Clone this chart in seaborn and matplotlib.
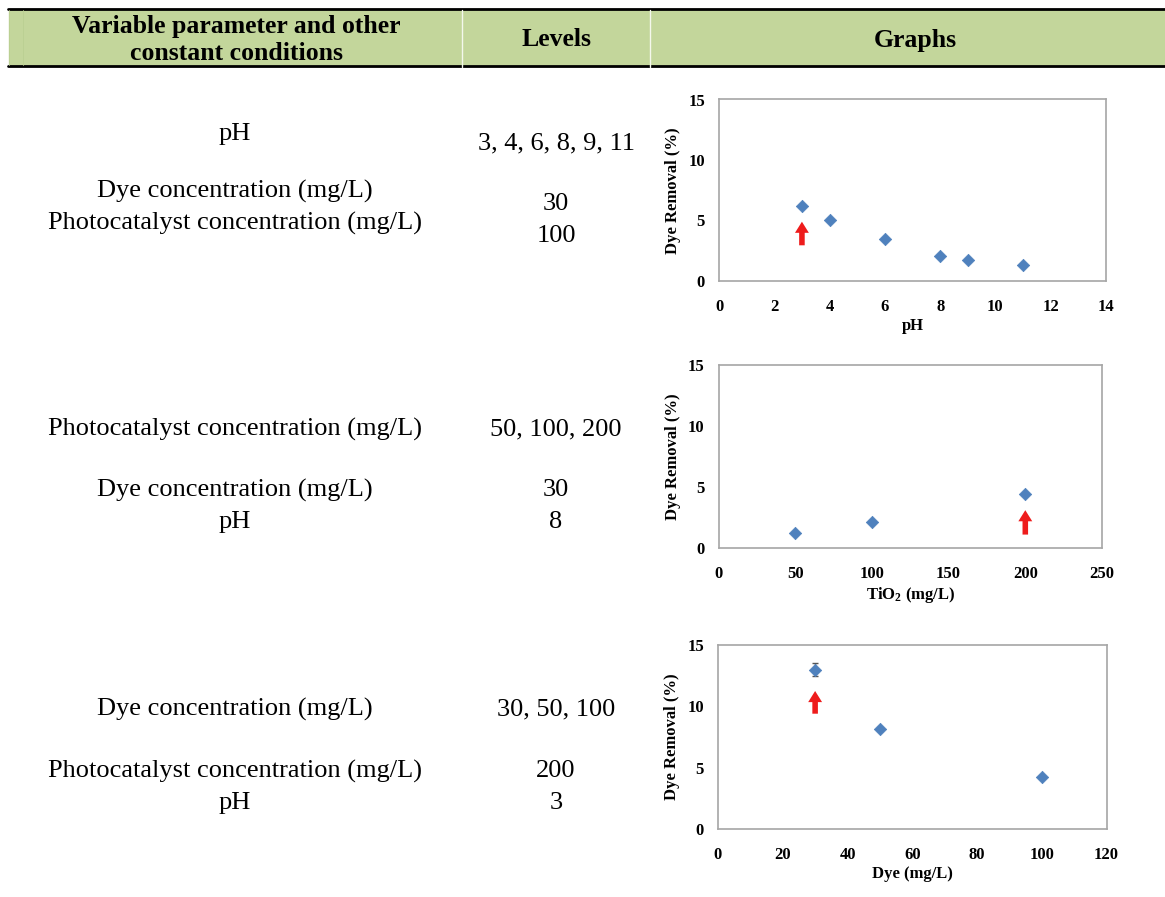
## Importing required libraries

import matplotlib.pyplot as plt
import seaborn as sns
import numpy as np

# Data
ph_levels = [3, 4, 6, 8, 9, 11]
ph_removal = [6.2, 5.0, 3.45, 2.1, 1.75, 1.3]

tio2_levels = [50, 100, 200]
tio2_removal = [1.2, 2.15, 4.45]

dye_levels = [30, 50, 100]
dye_removal = [13.0, 8.15, 4.2]
dye_error = [0.55, 0.15, 0.08]

# Red arrows marking the chosen level: x, tail, head
ph_arrow = [3, 2.95, 4.9]
tio2_arrow = [200, 1.1, 3.1]
dye_arrow = [30, 9.4, 11.25]

# Table text
header_cols = ["Variable parameter and other\nconstant conditions", "Levels", "Graphs"]
row_params = [
    ["pH", "Dye concentration (mg/L)", "Photocatalyst concentration (mg/L)"],
    ["Photocatalyst concentration (mg/L)", "Dye concentration (mg/L)", "pH"],
    ["Dye concentration (mg/L)", "Photocatalyst concentration (mg/L)", "pH"],
]
row_levels = [
    ["3, 4, 6, 8, 9, 11", "30", "100"],
    ["50, 100, 200", "30", "8"],
    ["30, 50, 100", "200", "3"],
]

# Set style
sns.set_theme(style="white")
plt.rcParams['font.family'] = ['Liberation Serif', 'DejaVu Serif']
plt.rcParams['mathtext.default'] = 'regular'
plt.rcParams['text.color'] = 'black'

W, H = 1165, 897
fig = plt.figure(figsize=(W / 100, H / 100), dpi=100)


def fx(px):
    return px / W


def fy(py):
    return 1 - py / H


# Header band
fig.patches.append(plt.Rectangle((fx(9), fy(66)), fx(1165 - 9), 57 / H,
                                 transform=fig.transFigure, color='#c3d69b', zorder=0))
fig.lines.append(plt.Line2D([fx(8), 1], [fy(9), fy(9)], transform=fig.transFigure,
                            color='black', lw=2))
fig.lines.append(plt.Line2D([fx(8), 1], [fy(66), fy(66)], transform=fig.transFigure,
                            color='black', lw=2))
for sx in [462, 650]:
    fig.lines.append(plt.Line2D([fx(sx), fx(sx)], [fy(10), fy(67)], transform=fig.transFigure,
                                color='#f4f8ec', lw=1))
for sx in [9, 23]:
    fig.lines.append(plt.Line2D([fx(sx), fx(sx)], [fy(10), fy(65)], transform=fig.transFigure,
                                color='#bacf92', lw=0.6))

fig.text(fx(236), fy(40), header_cols[0], ha='center', va='center', fontsize=18.5,
         fontweight='bold', linespacing=1.22)
fig.text(fx(556), fy(40), header_cols[1], ha='center', va='center', fontsize=18.5,
         fontweight='bold')
fig.text(fx(915), fy(40), header_cols[2], ha='center', va='center', fontsize=18.5,
         fontweight='bold')

# Left columns text
param_y = [[134, 191, 223], [429, 490, 522], [709, 771, 803]]
level_y = [[143, 204, 236], [429, 490, 522], [709, 771, 803]]
for r in range(3):
    for i in range(3):
        fig.text(fx(235), fy(param_y[r][i]), row_params[r][i], ha='center', va='center',
                 fontsize=19)
        fig.text(fx(556), fy(level_y[r][i]), row_levels[r][i], ha='center', va='center',
                 fontsize=19)


def make_axes(left, right, top, bottom):
    ax = fig.add_axes([fx(left), fy(bottom), (right - left) / W, (bottom - top) / H])
    for s in ax.spines.values():
        s.set_color('#a6a6a6')
        s.set_linewidth(1.2)
    return ax


def style_axes(ax, xmax, xstep, xlabel):
    ax.set_xlim(0, xmax)
    ax.set_ylim(0, 15)
    ax.set_xticks(np.arange(0, xmax + 1e-9, xstep))
    ax.set_yticks([0, 5, 10, 15])
    ax.tick_params(axis='both', length=0, labelsize=12, colors='black')
    ax.tick_params(axis='x', pad=13)
    ax.tick_params(axis='y', pad=10)
    for lab in ax.get_xticklabels() + ax.get_yticklabels():
        lab.set_fontweight('bold')
    ax.set_xlabel(xlabel, fontsize=12, fontweight='bold', labelpad=2, color='black')
    ax.set_ylabel("Dye Removal (%)", fontsize=12, fontweight='bold', labelpad=5,
                  color='black')


def draw_arrow(ax, arrow):
    ax.annotate("", xy=(arrow[0], arrow[2]), xytext=(arrow[0], arrow[1]),
                arrowprops=dict(arrowstyle='simple,head_length=0.8,head_width=1.0,tail_width=0.4',
                                color='#ee1c1c', lw=0, shrinkA=0, shrinkB=0,
                                mutation_scale=10))


marker_color = '#4f81bd'

# 1. pH panel
ax1 = make_axes(719, 1106, 99.5, 281)
sns.scatterplot(x=ph_levels, y=ph_removal, marker='D', color=marker_color, s=40,
                edgecolor=marker_color, ax=ax1, zorder=3)
draw_arrow(ax1, ph_arrow)
style_axes(ax1, 14, 2, "pH")

# 2. TiO2 panel
ax2 = make_axes(718.5, 1102, 365, 548)
sns.scatterplot(x=tio2_levels, y=tio2_removal, marker='D', color=marker_color, s=40,
                edgecolor=marker_color, ax=ax2, zorder=3)
draw_arrow(ax2, tio2_arrow)
style_axes(ax2, 250, 50, "TiO$_2$ (mg/L)")

# 3. Dye panel
ax3 = make_axes(718, 1106.5, 645, 829)
ax3.errorbar(dye_levels, dye_removal, yerr=dye_error, fmt='none', ecolor='#555555',
             elinewidth=1, capsize=2.5, zorder=2)
sns.scatterplot(x=dye_levels, y=dye_removal, marker='D', color=marker_color, s=40,
                edgecolor=marker_color, ax=ax3, zorder=3)
draw_arrow(ax3, dye_arrow)
style_axes(ax3, 120, 20, "Dye (mg/L)")

plt.savefig("out.png", dpi=100)
plt.close()
